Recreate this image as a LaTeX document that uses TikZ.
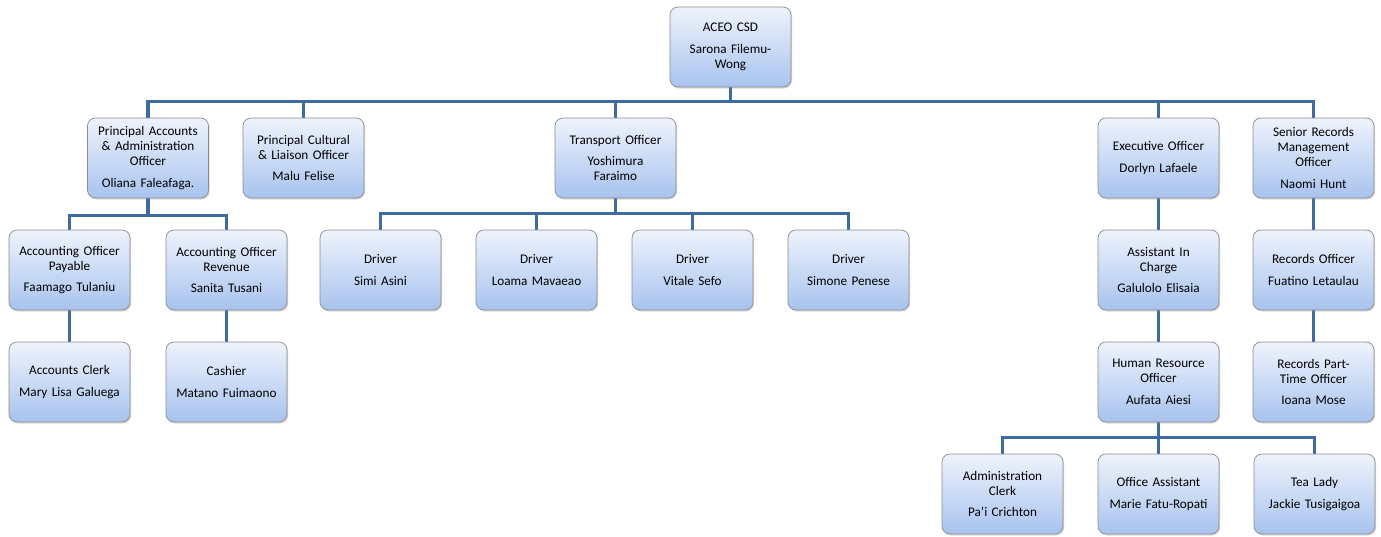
\documentclass[tikz,border=0pt]{standalone}
\usepackage{fontspec}
\setmainfont{Carlito}
\usetikzlibrary{shadows,backgrounds}
\definecolor{linkblue}{RGB}{62,107,160}
\definecolor{boxtop}{RGB}{238,243,252}
\definecolor{boxbottom}{RGB}{168,195,238}
\definecolor{boxedge}{RGB}{140,140,140}
\tikzset{
  post/.style={draw=boxedge, line width=0.7pt, rounded corners=8pt,
    top color=boxtop, bottom color=boxbottom,
    minimum width=121pt, minimum height=80pt, inner sep=2pt,
    text width=117pt, align=center,
    font=\fontsize{13.2}{15}\selectfont,
    drop shadow={opacity=0.3, shadow xshift=1.2pt, shadow yshift=-1.5pt}},
  link/.style={draw=linkblue, line width=3.5pt}
}
\newcommand{\namegap}{\\[6.5pt]}
\begin{document}
\begin{tikzpicture}[x=1pt,y=-1pt]
\useasboundingbox (0,0) rectangle (1381,536);
% head
\node[post] (aceo) at (730.5,47) {ACEO CSD\namegap Sarona Filemu-\\Wong};
% first level
\node[post] (pa)  at (148,158) {Principal Accounts\\\& Administration\\Officer\namegap Oliana Faleafaga.};
\node[post] (pc)  at (303.5,158) {Principal Cultural\\\& Liaison Officer\namegap Malu Felise};
\node[post] (to)  at (615.5,158) {Transport Officer\namegap Yoshimura\\Faraimo};
\node[post] (eo)  at (1158.5,158) {Executive Officer\namegap Dorlyn Lafaele};
\node[post] (sr)  at (1313.5,158) {Senior Records\\Management\\Officer\namegap Naomi Hunt};
% second level
\node[post] (ap)  at (69.5,270) {Accounting Officer\\Payable\namegap Faamago Tulaniu};
\node[post] (ar)  at (226.5,270) {Accounting Officer\\Revenue\namegap Sanita Tusani};
\node[post] (d1)  at (380.5,270) {Driver\namegap Simi Asini};
\node[post] (d2)  at (536.5,270) {Driver\namegap Loama Mavaeao};
\node[post] (d3)  at (692.5,270) {Driver\namegap Vitale Sefo};
\node[post] (d4)  at (848.5,270) {Driver\namegap Simone Penese};
\node[post] (ai)  at (1158.5,270) {Assistant In\\Charge\namegap Galulolo Elisaia};
\node[post] (ro)  at (1313.5,270) {Records Officer\namegap Fuatino Letaulau};
% third level
\node[post] (ac)  at (69.5,382) {Accounts Clerk\namegap Mary Lisa Galuega};
\node[post] (ca)  at (226.5,382) {Cashier\namegap Matano Fuimaono};
\node[post] (hr)  at (1158.5,382) {Human Resource\\Officer\namegap Aufata Aiesi};
\node[post] (rp)  at (1313.5,382) {Records Part-\\Time Officer\namegap Ioana Mose};
% fourth level
\node[post] (cl)  at (1002.5,494) {Administration\\Clerk\namegap Pa'i Crichton};
\node[post] (oa)  at (1158.5,494) {Office Assistant\namegap Marie Fatu-Ropati};
\node[post] (tl)  at (1314.5,494) {Tea Lady\namegap Jackie Tusigaigoa};
% reporting lines
\begin{pgfonlayer}{background}
\foreach \n in {pa,pc,to,eo,sr}
  \draw[link] (aceo.south) -- ++(0,14) -| (\n.north);
\foreach \n in {ap,ar}
  \draw[link] (pa.south) -- ++(0,17) -| (\n.north);
\foreach \n in {d1,d2,d3,d4}
  \draw[link] (to.south) -- ++(0,15) -| (\n.north);
\draw[link] (eo.south) -- (ai.north);
\draw[link] (ai.south) -- (hr.north);
\draw[link] (sr.south) -- (ro.north);
\draw[link] (ro.south) -- (rp.north);
\draw[link] (ap.south) -- (ac.north);
\draw[link] (ar.south) -- (ca.north);
\foreach \n in {cl,oa,tl}
  \draw[link] (hr.south) -- ++(0,15) -| (\n.north);
\end{pgfonlayer}
\end{tikzpicture}
\end{document}
